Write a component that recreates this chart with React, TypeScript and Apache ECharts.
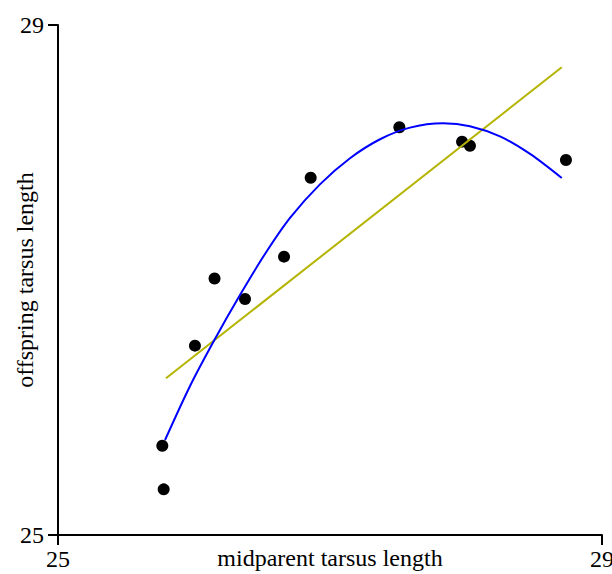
import React, { useEffect, useRef } from "react";
import * as echarts from "echarts";

// observed points (midparent, offspring)
const pointX = [25.767, 25.777, 26.007, 26.151, 26.375, 26.662, 26.858, 27.51, 27.971, 28.029, 28.735];
const pointY = [25.7, 25.358, 26.485, 27.012, 26.851, 27.183, 27.802, 28.198, 28.085, 28.053, 27.941];

// linear fit line (read endpoints)
const linearX = [25.794, 28.704];
const linearY = [26.229, 28.668];

// quadratic fit curve
const quadX = [25.787, 25.971, 26.154, 26.338, 26.522, 26.706, 26.926, 27.147, 27.368, 27.588, 27.831, 28.029, 28.25, 28.471, 28.704];
const quadY = [25.745, 26.169, 26.537, 26.882, 27.204, 27.487, 27.75, 27.955, 28.104, 28.195, 28.229, 28.206, 28.126, 27.989, 27.8];

const axisTicks = [25, 29];

const FONT = "'Liberation Serif', 'Times New Roman', serif";

const zip = (xs: number[], ys: number[]) => xs.map((x, i) => [x, ys[i]]);

export default function App() {
  const ref = useRef<HTMLDivElement>(null);
  useEffect(() => {
    if (!ref.current) return;
    const chart = echarts.init(ref.current, undefined, { renderer: "svg" });
    const axisCommon = {
      type: "value" as const,
      min: axisTicks[0],
      max: axisTicks[1],
      interval: axisTicks[1] - axisTicks[0],
      splitLine: { show: false },
      axisLine: { show: true, onZero: false, lineStyle: { color: "#000", width: 2 } },
      axisTick: { show: true, length: 10, inside: false, lineStyle: { color: "#000", width: 2 } },
      nameLocation: "middle" as const,
      nameMoveOverlap: false,
      nameTextStyle: { fontFamily: FONT, fontSize: 24, color: "#000" },
    };
    chart.setOption({
      animation: false,
      backgroundColor: "#fff",
      grid: { left: 58, right: 10, top: 25, bottom: 39, containLabel: false, outerBoundsMode: "none" },
      xAxis: {
        ...axisCommon,
        name: "midparent tarsus length",
        nameGap: 11,
        axisLabel: { fontFamily: FONT, fontSize: 24, color: "#000", margin: 12 },
      },
      yAxis: {
        ...axisCommon,
        name: "offspring tarsus length",
        nameGap: 21,
        axisLabel: { fontFamily: FONT, fontSize: 24, color: "#000", margin: 14 },
      },
      series: [
        {
          type: "scatter",
          data: zip(pointX, pointY),
          symbol: "circle",
          symbolSize: 12,
          itemStyle: { color: "#000", opacity: 1 },
          z: 2,
        },
        {
          type: "line",
          data: zip(linearX, linearY),
          showSymbol: false,
          lineStyle: { color: "#b4b400", width: 2 },
          z: 3,
        },
        {
          type: "line",
          data: zip(quadX, quadY),
          showSymbol: false,
          smooth: 0.3,
          lineStyle: { color: "#0000ff", width: 2 },
          z: 3,
        },
      ],
    });
    return () => chart.dispose();
  }, []);
  return <div ref={ref} style={{ width: 612, height: 574, position: "absolute", left: 0, top: 0 }} />;
}
